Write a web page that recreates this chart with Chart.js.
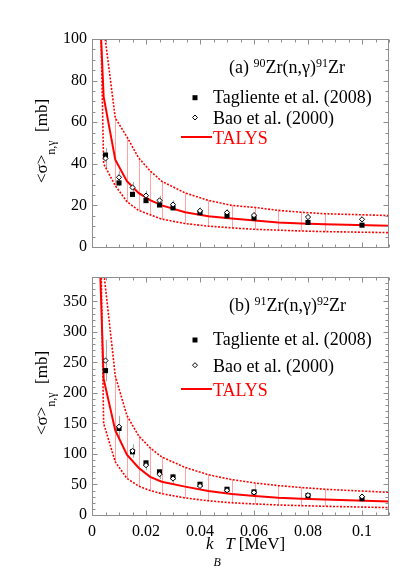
<!DOCTYPE html>
<html>
<head>
<meta charset="utf-8">
<script src="https://cdn.jsdelivr.net/npm/chart.js@4.4.1/dist/chart.umd.min.js"></script>
<style>
  body { margin: 0; background: #fff; font-family: "Liberation Serif", serif; }
  #page { position: relative; width: 415px; height: 588px; }
  .panel { position: absolute; left: 0; width: 415px; }
  #bottom { top: 258px; height: 330px; }
  #top { top: 0; height: 300px; }
</style>
</head>
<body>
<div id="page">
  <div class="panel" id="bottom"><canvas id="chartB"></canvas></div>
  <div class="panel" id="top"><canvas id="chartA"></canvas></div>
</div>
<script>
// kT of the MACS points [MeV]
const kT = [0.005, 0.01, 0.015, 0.02, 0.025, 0.03, 0.04, 0.05, 0.06, 0.08, 0.1];

// (a) 90Zr(n,g)91Zr
const taglienteA = [44.2, 30.8, 25.3, 22.3, 20.2, 18.8, 16.5, 15.0, 13.9, 11.8, 10.5];
const taglienteAErr = [2.2, 1.5, 1.2, 1.1, 1.0, 0.9, 0.8, 0.8, 0.7, 0.6, 0.6];
const baoA = [42.6, 33.5, 28.6, 24.7, 22.4, 20.4, 17.4, 16.6, 15.3, 14.4, 13.3];
const baoAErr = [5.0, 3.2, 2.8, 2.4, 2.2, 2.0, 1.7, 1.6, 1.5, 1.4, 1.3];

// TALYS temperature grid (T9 = 0.01, 0.05, 0.1 ... 1.0, 1.5 as kT)
const talysKT = [0.00086, 0.00431, 0.00862, 0.01293, 0.01723, 0.02154, 0.02585, 0.03447,
                 0.04309, 0.0517, 0.06032, 0.06894, 0.07755, 0.08617, 0.1293];
const talysA = [175, 72.3, 42.0, 31.6, 26.0, 22.5, 20.0, 16.7, 14.8, 13.7, 12.7, 11.8, 11.3, 10.9, 9.6];
const talysALow = [260, 40.0, 29.5, 21.8, 17.6, 15.5, 13.4, 11.3, 10.0, 9.2, 8.5, 8.1, 7.7, 7.4, 6.5];
const talysAHigh = [300, 106, 62.0, 53.0, 42.9, 36.6, 31.6, 26.0, 22.4, 20.0, 19.0, 17.6, 16.7, 16.0, 14.4];

// (b) 91Zr(n,g)92Zr
const taglienteB = [236.6, 141.8, 103.5, 85.4, 70.7, 62.4, 50.4, 42.2, 37.8, 31.7, 26.8];
const taglienteBErr = [12, 7, 5, 4, 3.5, 3, 2.5, 2, 2, 1.6, 1.4];
const baoB = [253, 144.6, 105, 81.6, 66.8, 59.7, 47.6, 40.5, 37.0, 32.5, 30.1];
const baoBErr = [34, 18, 11, 8, 8, 8, 6, 5, 5, 4, 4];
const talysB = [700, 223, 138.5, 99, 77.5, 62.5, 54.5, 46.5, 39.4, 34.5, 31.2, 28.3, 26.6, 25.3, 19.8];
const talysBLow = [1100, 150, 87, 60, 47.5, 40, 35, 28, 23.3, 20, 18.1, 16.4, 15.3, 14.3, 10.3];
const talysBHigh = [1300, 400, 228, 163, 130, 110, 95, 78, 66, 58, 52.5, 48.2, 45, 42.2, 33];

// axes
const xMax = 0.11;
const xTicks = [0, 0.02, 0.04, 0.06, 0.08, 0.1];
const xTickLabels = ['0', '0.02', '0.04', '0.06', '0.08', '0.1'];
const xMinorStep = 0.005;
const yTicksA = [0, 20, 40, 60, 80, 100];
const yTicksB = [0, 50, 100, 150, 200, 250, 300, 350];

const serif = '"Liberation Serif", serif';
const frameColor = '#8e8e8e';

Chart.defaults.font.family = serif;
Chart.defaults.color = '#000';

function pts(xs, ys) {
    return xs.map((x, i) => ({ x: x, y: ys[i] }));
}

function fontOf(p) {
    return (p.italic ? 'italic ' : '') + (p.size || 18) + 'px ' + serif;
}

function richWidth(ctx, parts) {
    return parts.reduce((w, p) => {
        ctx.font = fontOf(p);
        return w + ctx.measureText(p.t).width;
    }, 0);
}

function drawRich(ctx, x, y, parts) {
    parts.forEach(p => {
        ctx.font = fontOf(p);
        ctx.fillStyle = p.color || '#000';
        ctx.fillText(p.t, x, y + (p.dy || 0));
        x += ctx.measureText(p.t).width;
    });
}

function isMultiple(v, step) {
    const r = v / step;
    return Math.abs(r - Math.round(r)) < 1e-6;
}

// frame with inward ticks on all four sides
function framePlugin(panel) {
    return {
        id: 'frame',
        afterDraw(chart) {
            const { ctx, chartArea: a, scales: { x, y } } = chart;
            const L = Math.round(a.left) + 0.5, R = Math.round(a.right) - 0.5;
            const T = Math.round(a.top) + 0.5, B = Math.round(a.bottom) + 0.5;
            ctx.save();
            ctx.strokeStyle = frameColor;
            ctx.lineWidth = 1;
            ctx.strokeRect(L, T, R - L, B - T);
            ctx.beginPath();
            for (let i = 0; i * xMinorStep <= x.max + 1e-9; i++) {
                const v = i * xMinorStep;
                const px = Math.round(x.getPixelForValue(v)) + 0.5;
                const len = isMultiple(v, 0.02) ? 5 : 3;
                ctx.moveTo(px, B); ctx.lineTo(px, B - len);
                ctx.moveTo(px, T); ctx.lineTo(px, T + len);
            }
            for (let i = 0; i * panel.yMinor <= y.max + 1e-9; i++) {
                const v = i * panel.yMinor;
                const py = Math.round(y.getPixelForValue(v)) + 0.5;
                const len = isMultiple(v, panel.yMajor) ? 5 : 3;
                ctx.moveTo(L, py); ctx.lineTo(L + len, py);
                ctx.moveTo(R, py); ctx.lineTo(R - len, py);
            }
            ctx.stroke();
            ctx.restore();
        }
    };
}

// TALYS uncertainty hatching and experimental error bars
function bandsPlugin(panel) {
    return {
        id: 'bands',
        beforeDatasetsDraw(chart) {
            const { ctx, chartArea: a, scales: { x, y } } = chart;
            ctx.save();
            ctx.beginPath();
            ctx.rect(a.left, a.top, a.width, a.height);
            ctx.clip();
            ctx.lineWidth = 1;
            ctx.strokeStyle = 'rgba(255, 70, 70, 0.5)';
            ctx.beginPath();
            talysKT.forEach((v, i) => {
                if (v < 0.006 || v > xMax) return;
                const px = Math.round(x.getPixelForValue(v)) + 0.5;
                ctx.moveTo(px, y.getPixelForValue(panel.low[i]));
                ctx.lineTo(px, y.getPixelForValue(panel.high[i]));
            });
            ctx.stroke();
            ctx.strokeStyle = '#a8a8a8';
            ctx.lineWidth = 1.2;
            ctx.beginPath();
            [[panel.bao, panel.baoErr], [panel.tag, panel.tagErr]].forEach(([vals, errs]) => {
                kT.forEach((v, i) => {
                    const px = Math.round(x.getPixelForValue(v)) + 0.5;
                    ctx.moveTo(px, y.getPixelForValue(vals[i] - errs[i]));
                    ctx.lineTo(px, y.getPixelForValue(vals[i] + errs[i]));
                });
            });
            ctx.stroke();
            ctx.restore();
        }
    };
}

// reaction label, legend and axis titles
function notesPlugin(panel) {
    return {
        id: 'notes',
        afterDraw(chart) {
            const { ctx, chartArea: a } = chart;
            const lg = panel.legend;
            ctx.save();
            ctx.textBaseline = 'alphabetic';
            drawRich(ctx, a.left + 137, a.top + lg.label, panel.label);

            const mx = a.left + 103, tx = a.left + 121;
            ctx.fillStyle = '#000';
            ctx.fillRect(mx - 2.5, a.top + lg.rows[0] - 7.5, 5, 5);
            drawRich(ctx, tx, a.top + lg.rows[0], [{ t: 'Tagliente et al. (2008)' }]);

            const dy = a.top + lg.rows[1] - 6.5;
            ctx.beginPath();
            ctx.moveTo(mx, dy - 2.5); ctx.lineTo(mx + 2.5, dy);
            ctx.lineTo(mx, dy + 2.5); ctx.lineTo(mx - 2.5, dy); ctx.closePath();
            ctx.fillStyle = '#fff'; ctx.fill();
            ctx.strokeStyle = '#000'; ctx.lineWidth = 1; ctx.stroke();
            drawRich(ctx, tx, a.top + lg.rows[1], [{ t: 'Bao et al. (2000)' }]);

            ctx.strokeStyle = '#ff0000'; ctx.lineWidth = 2;
            ctx.beginPath();
            ctx.moveTo(a.left + 89, a.top + lg.rows[2] - 7);
            ctx.lineTo(a.left + 120, a.top + lg.rows[2] - 7);
            ctx.stroke();
            drawRich(ctx, tx, a.top + lg.rows[2], [{ t: 'TALYS', color: '#ff0000' }]);

            // y title, rotated
            const yTitle = [{ t: '<σ>', size: 17 }, { t: 'n,γ', size: 12, dy: 8 }, { t: '  [mb]', size: 17 }];
            ctx.save();
            ctx.translate(47, (a.top + a.bottom) / 2 + panel.titleShift);
            ctx.rotate(-Math.PI / 2);
            drawRich(ctx, -richWidth(ctx, yTitle) / 2, 0, yTitle);
            ctx.restore();

            if (panel.showX) {
                drawRich(ctx, a.left + 114, a.bottom + 34, [
                    { t: 'k', italic: true, size: 17 },
                    { t: 'B', italic: true, size: 12, dy: 17 },
                    { t: ' T', italic: true, size: 17 },
                    { t: ' [MeV]', size: 17 }
                ]);
            }
            ctx.restore();
        }
    };
}

function makeChart(id, panel) {
    const ctx = document.getElementById(id).getContext('2d');
    return new Chart(ctx, {
        type: 'line',
        data: {
            datasets: [{
                label: 'Bao et al. (2000)',
                data: pts(kT, panel.bao),
                showLine: false,
                pointStyle: 'rectRot',
                pointRadius: 2.6,
                pointBackgroundColor: '#fff',
                pointBorderColor: '#000',
                pointBorderWidth: 1
            }, {
                label: 'Tagliente et al. (2008)',
                data: pts(kT, panel.tag),
                showLine: false,
                pointStyle: 'rect',
                pointRadius: 3.6,
                pointBackgroundColor: '#000',
                pointBorderColor: '#000',
                pointBorderWidth: 0
            }, {
                label: 'TALYS',
                data: pts(talysKT, panel.talys),
                borderColor: '#ff0000',
                borderWidth: 2,
                pointRadius: 0
            }, {
                label: 'TALYS low',
                data: pts(talysKT, panel.low),
                borderColor: '#ff0000',
                borderWidth: 1.6,
                borderDash: [2, 1.5],
                pointRadius: 0
            }, {
                label: 'TALYS high',
                data: pts(talysKT, panel.high),
                borderColor: '#ff0000',
                borderWidth: 1.6,
                borderDash: [2, 1.5],
                pointRadius: 0
            }]
        },
        options: {
            responsive: true,
            maintainAspectRatio: false,
            animation: false,
            layout: { padding: panel.padding },
            plugins: {
                legend: { display: false },
                tooltip: { enabled: false }
            },
            scales: {
                x: {
                    type: 'linear',
                    min: 0,
                    max: xMax,
                    display: panel.showX,
                    grid: { display: false, drawTicks: false },
                    border: { display: false },
                    afterBuildTicks: s => { s.ticks = xTicks.map(v => ({ value: v })); },
                    afterFit: s => { s.height = 30; },
                    ticks: {
                        padding: 7,
                        color: '#000',
                        maxRotation: 0,
                        autoSkip: false,
                        font: { family: serif, size: 16, weight: 'normal' },
                        callback: v => xTickLabels[xTicks.indexOf(v)]
                    }
                },
                y: {
                    type: 'linear',
                    min: 0,
                    max: panel.yMax,
                    grid: { display: false, drawTicks: false },
                    border: { display: false },
                    afterBuildTicks: s => { s.ticks = panel.yTicks.map(v => ({ value: v })); },
                    afterFit: s => { s.width = 92; },
                    ticks: {
                        padding: 5,
                        color: '#000',
                        font: { family: serif, size: 16, weight: 'normal' },
                        callback: v => String(v)
                    }
                }
            }
        },
        plugins: [bandsPlugin(panel), framePlugin(panel), notesPlugin(panel)]
    });
}

makeChart('chartA', {
    tag: taglienteA, tagErr: taglienteAErr, bao: baoA, baoErr: baoAErr,
    talys: talysA, low: talysALow, high: talysAHigh,
    yMax: 100, yTicks: yTicksA, yMinor: 5, yMajor: 20,
    showX: false, titleShift: -2,
    padding: { left: 0, right: 26, top: 39, bottom: 23 },
    legend: { label: 33.5, rows: [63.7, 85, 105] },
    label: [{ t: '(a) ' }, { t: '90', size: 12, dy: -6 }, { t: 'Zr(n,γ)' }, { t: '91', size: 12, dy: -6 }, { t: 'Zr' }]
});

makeChart('chartB', {
    tag: taglienteB, tagErr: taglienteBErr, bao: baoB, baoErr: baoBErr,
    talys: talysB, low: talysBLow, high: talysBHigh,
    yMax: 390, yTicks: yTicksB, yMinor: 10, yMajor: 50,
    showX: true, titleShift: -3,
    padding: { left: 0, right: 26, top: 19, bottom: 43 },
    legend: { label: 33.7, rows: [68, 94.7, 119] },
    label: [{ t: '(b) ' }, { t: '91', size: 12, dy: -6 }, { t: 'Zr(n,γ)' }, { t: '92', size: 12, dy: -6 }, { t: 'Zr' }]
});
</script>
</body>
</html>
